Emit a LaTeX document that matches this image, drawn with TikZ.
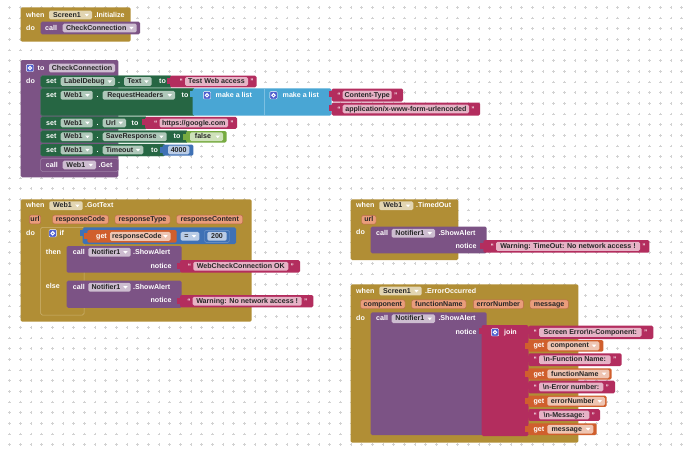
\documentclass[tikz,border=0pt]{standalone}
\usepackage{fontspec}
\setmainfont{Liberation Sans}
\definecolor{cgold}{HTML}{B18E35}
\definecolor{cgoldl}{HTML}{CDB373}
\definecolor{cpurple}{HTML}{7C5385}
\definecolor{cpurplel}{HTML}{9E80A6}
\definecolor{cgreen}{HTML}{266643}
\definecolor{cgreenl}{HTML}{3E7B5A}
\definecolor{cpink}{HTML}{B32D5E}
\definecolor{clist}{HTML}{49A6D4}
\definecolor{clistl}{HTML}{7CC0E2}
\definecolor{cmath}{HTML}{3F71B5}
\definecolor{clogic}{HTML}{77AB41}
\definecolor{corange}{HTML}{D05F2D}
\definecolor{fgold}{HTML}{E2D5B2}
\definecolor{fpurple}{HTML}{CDBDD0}
\definecolor{fgreen}{HTML}{AFC8BA}
\definecolor{fpink}{HTML}{E6B3C6}
\definecolor{forange}{HTML}{EFC5B2}
\definecolor{fmath}{HTML}{BACCE6}
\definecolor{flogic}{HTML}{CFE2BB}
\definecolor{chipc}{HTML}{E99D7B}
\definecolor{chipd}{HTML}{B8694A}
\definecolor{gearc}{HTML}{4F5FCF}
\definecolor{gridc}{HTML}{D2D2D2}
\newcounter{nn}
\tikzset{
  txt/.style={inner sep=0pt,font=\bfseries\fontsize{7.1}{8}\selectfont,text height=5.2pt,text depth=1pt},
  wt/.style={txt,text=white,anchor=west},
  wte/.style={txt,text=white,anchor=east},
  ft/.style={txt,text=black!85},
}
\newcommand\Tx[3][wt]{\stepcounter{nn}\node[#1] (n\arabic{nn}) at (#2) {#3};}
\newcommand\Bk[6][]{\fill[#2,rounded corners=1.5pt,#1] (#3,#4) rectangle (#5,#6);}
\newcommand\Tab[3]{\fill[#1] (#2-3.2,#3+2.5) rectangle (#2+0.6,#3+8.5);}
\newcommand\Fd[5]{%
  \fill[#1,rounded corners=1.5pt] (#2,#4-4.4) rectangle (#3,#4+4.4);
  \fill[white] (#3-7.5,#4-1.2) -- (#3-3,#4-1.2) -- (#3-5.25,#4+1.4) -- cycle;
  \Tx[ft]{{(#2+#3-7)/2},#4}{#5}}
\newcommand\Ft[5]{%
  \fill[#1,rounded corners=1.5pt] (#2,#4-4.4) rectangle (#3,#4+4.4);
  \Tx[ft]{{(#2+#3)/2},#4}{#5}}
\newcommand\Str[7]{%
  \pgfmathsetmacro\yc{(#3+#4)/2}
  \Tab{cpink}{#1}{#3}
  \Bk{cpink}{#1}{#3}{#2}{#4}
  \fill[fpink,rounded corners=1.5pt] (#5,\yc-4.4) rectangle (#6,\yc+4.4);
  \Tx[ft]{{(#5+#6)/2},\yc}{#7}
  \Tx[wt]{#5-5.6,\yc}{\fontsize{6.5}{6}\selectfont “}
  \Tx[wt]{#6+2.2,\yc}{\fontsize{6.5}{6}\selectfont ”}}
\newcommand\Get[8]{% x1 x2 y1 y2 getx fx1 fx2 text
  \pgfmathsetmacro\yc{(#3+#4)/2}
  \Tab{corange}{#1}{#3}
  \Bk{corange}{#1}{#3}{#2}{#4}
  \Tx[wt]{#5,\yc}{get}
  \Fd{forange}{#6}{#7}{\yc}{#8}}
\newcommand\Chip[4]{%
  \filldraw[fill=chipc,draw=chipd,line width=0.4pt,rounded corners=2pt] (#1,#3-4.4) rectangle (#2,#3+4.4);
  \Tx[ft]{{(#1+#2)/2},#3}{#4}}
\newcommand\Gear[2]{%
  \filldraw[fill=gearc,draw=white,line width=0.4pt,rounded corners=1pt] (#1-3.7,#2-3.7) rectangle (#1+3.7,#2+3.7);
  \draw[white,line width=1pt] (#1,#2) circle (1.7pt);}
\begin{document}
\begin{tikzpicture}[x=1pt,y=-1pt]
\useasboundingbox (0,0) rectangle (690,448);
\fill[white] (0,0) rectangle (690,448);
% dot grid
\foreach \i in {0,...,64}{\foreach \j in {0,...,41}{%
  \draw[gridc,line width=0.45pt] (9.67+10.667*\i-1.3,7.3+10.667*\j) -- ++(2.6,0) (9.67+10.667*\i,7.3+10.667*\j-1.3) -- ++(0,2.6);}}

% ---------- when Screen1.Initialize
\Bk{cgold}{20.7}{7.3}{130.7}{41.7}
\Tx{26,15}{when}
\Fd{fgold}{49}{92}{15}{Screen1}
\Tx{94.5,15}{.Initialize}
\Tx{26,28}{do}
\Bk{cpurple}{40.7}{21.7}{140}{34.3}
\Tx{45,28}{call}
\Fd{fpurple}{62.7}{136.7}{28}{CheckConnection}

% ---------- to CheckConnection
\Bk{cpurple}{20.7}{60}{118.3}{177.3}
\Gear{30}{68}
\Tx{37.5,68}{to}
\Ft{fpurple}{49}{115}{68}{CheckConnection}
\Tx{26,81.5}{do}
% row 1
\Bk[draw=cgreenl,line width=0.4pt]{cgreen}{40.7}{75.7}{172}{87.3}
\Tx{46,81.5}{set}
\Fd{fgreen}{60.7}{115}{81.5}{LabelDebug}
\Tx{118,81.5}{.}
\Fd{fgreen}{124}{151.7}{81.5}{Text}
\Tx{159,81.5}{to}
\Str{170}{256.5}{75.7}{87.3}{185}{248}{Test Web access}
% row 2
\Bk[draw=cgreenl,line width=0.4pt]{cgreen}{40.7}{88.3}{195}{115.7}
\Tx{46,95.3}{set}
\Fd{fgreen}{60.7}{92.7}{95.3}{Web1}
\Tx{96.5,95.3}{.}
\Fd{fgreen}{102.7}{175}{95.3}{RequestHeaders}
\Tx{181.5,95.3}{to}
\Tab{clist}{192.7}{88.3}
\Bk{clist}{192.7}{88.3}{331.5}{115.7}
\draw[clistl,line width=0.5pt] (264,88.6) -- (264,115.4);
\Gear{207}{95.3}
\Tx{215.5,95.3}{make a list}
\Gear{273.5}{95.3}
\Tx{282.5,95.3}{make a list}
\Str{331.7}{403}{88.5}{101.5}{342.7}{391.7}{Content-Type}
\Str{331.7}{480}{102.5}{115.5}{342.7}{469}{application/x-www-form-urlencoded}
% row 3
\Bk[draw=cgreenl,line width=0.4pt]{cgreen}{40.7}{116.7}{147}{129}
\Tx{46,122.9}{set}
\Fd{fgreen}{60.7}{92.7}{122.9}{Web1}
\Tx{96.5,122.9}{.}
\Fd{fgreen}{102.7}{126}{122.9}{Url}
\Tx{131.5,122.9}{to}
\Str{145}{237}{116.9}{128.9}{159.5}{228}{https://google.com}
% row 4
\Bk[draw=cgreenl,line width=0.4pt]{cgreen}{40.7}{130.7}{188}{142.7}
\Tx{46,136.7}{set}
\Fd{fgreen}{60.7}{92.7}{136.7}{Web1}
\Tx{96.5,136.7}{.}
\Fd{fgreen}{102.7}{166.7}{136.7}{SaveResponse}
\Tx{173.5,136.7}{to}
\Tab{clogic}{186}{131}
\Bk{clogic}{186}{131}{226.7}{142.5}
\Fd{flogic}{190}{223}{136.7}{false}
% row 5
\Bk[draw=cgreenl,line width=0.4pt]{cgreen}{40.7}{144}{165}{156}
\Tx{46,150}{set}
\Fd{fgreen}{60.7}{92.7}{150}{Web1}
\Tx{96.5,150}{.}
\Fd{fgreen}{102.7}{143.3}{150}{Timeout}
\Tx{151,150}{to}
\Tab{cmath}{162.7}{144.5}
\Bk{cmath}{162.7}{144.5}{193.3}{155.7}
\Ft{fmath}{168}{189.3}{150}{4000}
% row 6
\Bk[draw=cpurplel,line width=0.5pt]{cpurple}{40.7}{158.3}{118.3}{171.5}
\Tx{45.7,165}{call}
\Fd{fpurple}{62.7}{96}{165}{Web1}
\Tx{98.5,165}{.Get}

% ---------- when Web1.GotText
\Bk{cgold}{20.7}{199.3}{251.7}{321.7}
\Tx{26,205.7}{when}
\Fd{fgold}{49.3}{82.7}{205.7}{Web1}
\Tx{85,205.7}{.GotText}
\Chip{29.3}{40.7}{219.5}{url}
\Chip{52.7}{108.3}{219.5}{responseCode}
\Chip{115}{170}{219.5}{responseType}
\Chip{176.7}{242.7}{219.5}{responseContent}
\Tx{26,233.3}{do}
\Bk[draw=cgoldl,line width=0.5pt]{cgold}{40.7}{227.3}{84}{315}
\Gear{52.7}{233.3}
\Tx{59.5,233.3}{if}
\Tx{45.7,252.3}{then}
\Tx{45.7,286.7}{else}
\Tab{cmath}{82.7}{227.3}
\Bk{cmath}{82.7}{227.3}{236}{244}
\Get{87.3}{176.7}{230}{242.7}{96}{110}{170.7}{responseCode}
\Fd{fmath}{180.7}{199.3}{236.3}{=}
\Bk[draw=cmath!70!white,line width=0.4pt]{cmath}{204.5}{230.3}{229.5}{242.3}
\Ft{fmath}{207.3}{226.7}{236.3}{200}
\Bk{cpurple}{66.7}{246}{181.7}{272.7}
\Tx{72.7,252.3}{call}
\Fd{fpurple}{88.3}{130.7}{252.3}{Notifier1}
\Tx{133,252.3}{.ShowAlert}
\Tx[wte]{171.7,266}{notice}
\Str{180}{300}{260}{272.5}{193.3}{288.3}{WebCheckConnection OK}
\Bk{cpurple}{66.7}{280.7}{181.7}{307.8}
\Tx{72.7,287.3}{call}
\Fd{fpurple}{88.3}{130.7}{287.3}{Notifier1}
\Tx{133,287.3}{.ShowAlert}
\Tx[wte]{171.7,300.7}{notice}
\Str{180}{313.3}{295}{307.3}{192.7}{301.7}{Warning: No network access !}

% ---------- when Web1.TimedOut
\Bk{cgold}{350.7}{199.3}{458.3}{260}
\Tx{356,205.7}{when}
\Fd{fgold}{379.3}{413.3}{205.7}{Web1}
\Tx{416,205.7}{.TimedOut}
\Chip{361.7}{376}{219.7}{url}
\Tx{356,232.7}{do}
\Bk{cpurple}{370.7}{226.7}{486.7}{253.3}
\Tx{376,233.3}{call}
\Fd{fpurple}{391.7}{435}{233.3}{Notifier1}
\Tx{438.3,233.3}{.ShowAlert}
\Tx[wte]{476.7,246.5}{notice}
\Str{483.3}{649.3}{240}{252.7}{496}{640}{Warning: TimeOut: No network access !}

% ---------- when Screen1.ErrorOccurred
\Bk{cgold}{350.7}{284.3}{578.3}{442.7}
\Tx{356,291}{when}
\Fd{fgold}{379.3}{421.7}{291}{Screen1}
\Tx{425,291}{.ErrorOccurred}
\Chip{360.7}{405}{304.3}{component}
\Chip{411.7}{466}{304.3}{functionName}
\Chip{473.3}{523.3}{304.3}{errorNumber}
\Chip{530}{568.3}{304.3}{message}
\Tx{356,318.3}{do}
\Bk{cpurple}{370.7}{312.3}{486.7}{435}
\Tx{376,318.7}{call}
\Fd{fpurple}{391.7}{435}{318.7}{Notifier1}
\Tx{438.3,318.7}{.ShowAlert}
\Tx[wte]{476.7,332.3}{notice}
\Tab{cpink}{481.7}{325}
\Bk{cpink}{481.7}{325}{528.5}{436}
\Gear{495}{332.3}
\Tx{504,332.3}{join}
\Str{528.3}{653.3}{325.7}{339}{539}{641.7}{Screen Error\textbackslash n-Component:}
\Get{528.3}{603.3}{340}{351.7}{533.3}{547.3}{599.3}{component}
\Str{528.3}{621.7}{353.3}{366}{539}{610.7}{\textbackslash n-Function Name:}
\Get{528.3}{611.7}{368.3}{379.5}{533.3}{547.3}{609.3}{functionName}
\Str{528.3}{615}{380.7}{393.3}{539}{603.3}{\textbackslash n-Error number:}
\Get{528.3}{606.7}{395.7}{406.9}{533.3}{547.3}{605}{errorNumber}
\Str{528.3}{600}{409}{420.9}{539}{589.3}{\textbackslash n-Message:}
\Get{528.3}{596.7}{423.3}{435}{533.3}{547.3}{593.3}{message}
\end{tikzpicture}
\end{document}
